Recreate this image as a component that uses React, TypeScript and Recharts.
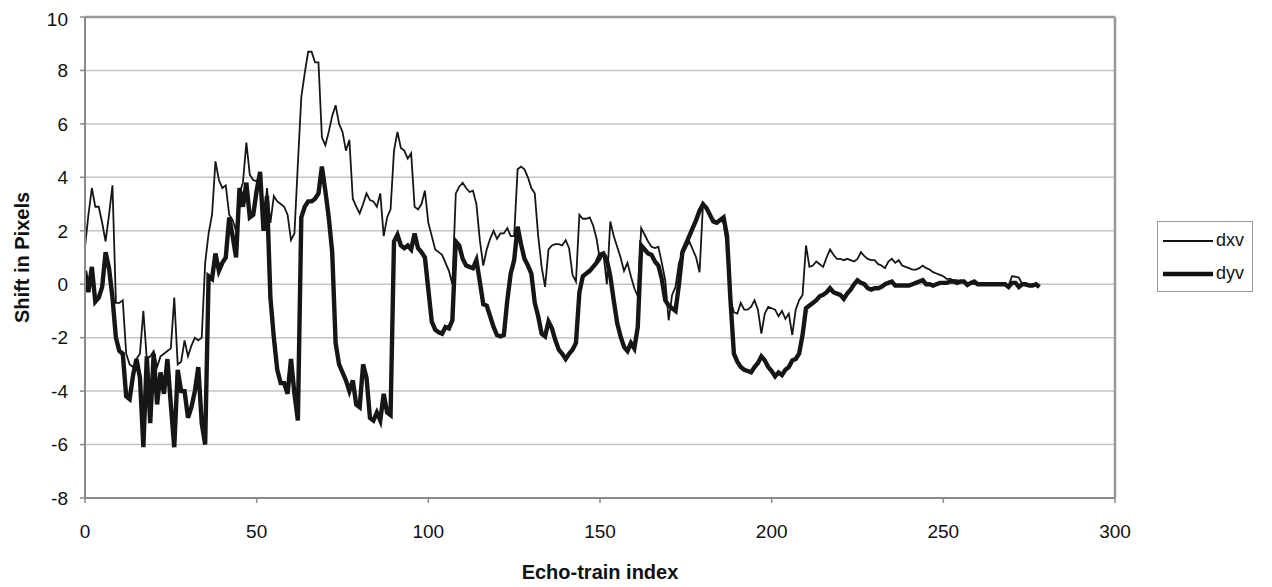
import React from 'react';
import {
  LineChart, Line, XAxis, YAxis, CartesianGrid, ReferenceLine, Legend, Label,
} from 'recharts';

// Echo-train index values 0..278
const dxv: number[] = [
  1.4, 2.6, 3.6, 2.9, 2.9, 2.3, 1.6, 2.6, 3.7, -0.7,
  -0.7, -0.6, -2.6, -3.0, -3.1, -2.8, -2.6, -1.0, -2.8, -2.7,
  -2.5, -3.1, -2.7, -2.6, -2.5, -2.4, -0.5, -3.0, -2.9, -2.1,
  -2.7, -2.3, -2.0, -2.1, -2.0, 0.8, 1.9, 2.6, 4.6, 3.9,
  3.6, 3.7, 2.6, 2.4, 2.0, 3.4, 3.8, 5.3, 4.1, 3.9,
  3.85, 4.1, 2.1, 3.6, 2.3, 3.3, 3.1, 3.0, 2.9, 2.6,
  1.65, 1.9, 4.5, 7.0, 7.9, 8.7, 8.7, 8.3, 8.3, 5.5,
  5.2, 5.7, 6.3, 6.7, 6.0, 5.7, 5.0, 5.4, 3.2, 2.9,
  2.65, 3.0, 3.4, 3.15, 3.1, 2.9, 3.4, 1.8, 2.5, 2.8,
  5.0, 5.7, 5.1, 5.0, 4.7, 4.9, 2.9, 2.8, 3.0, 3.5,
  2.3, 1.8, 1.3, 1.2, 1.1, 0.8, 0.5, 0.0, 3.4, 3.65,
  3.8, 3.6, 3.45, 3.5, 3.0, 1.65, 0.7, 1.3, 1.7, 2.0,
  1.7, 1.9, 1.9, 2.1, 1.8, 1.8, 4.3, 4.4, 4.3, 4.0,
  3.6, 3.4, 1.8, 0.65, -0.1, 1.3, 1.45, 1.5, 1.5, 1.45,
  1.65, 1.35, 0.35, 0.1, 2.6, 2.45, 2.45, 2.5, 2.2, 1.7,
  0.9, 1.15, 0.0, 2.35, 1.8, 1.4, 1.0, 0.5, 0.8, 0.3,
  -0.15, -0.45, 2.1, 1.85, 1.6, 1.4, 1.35, 1.4, 0.8, 0.15,
  -1.35, -0.4, -0.1, 0.8, 1.1, 1.35, 1.6, 1.3, 1.0, 0.45,
  3.0, 2.9, 2.6, 2.45, 2.3, 2.4, 2.3, 1.4, -0.6, -1.05,
  -1.1, -0.7, -0.95, -0.95, -0.85, -0.6, -0.95, -1.85, -1.1, -0.85,
  -0.9, -0.95, -1.2, -1.0, -1.3, -1.1, -1.9, -0.95, -0.6, -0.4,
  1.45, 0.65, 0.7, 0.85, 0.75, 0.65, 1.0, 1.3, 1.1, 0.95,
  0.95, 0.9, 0.95, 0.9, 0.85, 0.95, 1.2, 1.05, 0.95, 0.9,
  0.9, 0.75, 0.7, 0.6, 0.85, 0.95, 0.8, 0.9, 0.7, 0.65,
  0.6, 0.55, 0.55, 0.6, 0.7, 0.6, 0.55, 0.45, 0.4, 0.35,
  0.3, 0.2, 0.2, 0.15, 0.15, 0.1, 0.1, 0.05, 0.05, 0.0,
  0.0, 0.0, 0.0, 0.0, 0.0, 0.0, 0.0, 0.0, 0.0, -0.05,
  0.3, 0.28, 0.25, 0.0, -0.05, -0.05, 0.0, -0.05, -0.05,
];

const dyv: number[] = [
  0.5, -0.3, 0.65, -0.65, -0.5, -0.1, 1.2, 0.6, -0.5, -2.0,
  -2.5, -2.6, -4.2, -4.3, -3.4, -2.8, -3.5, -6.1, -2.7, -5.2,
  -2.6, -4.5, -3.3, -4.1, -2.8, -4.5, -6.1, -3.2, -4.0, -4.0,
  -5.0, -4.6, -4.0, -3.1, -5.2, -6.0, 0.3, 0.2, 1.15, 0.5,
  0.8, 1.0, 2.5, 1.8, 1.0, 3.6, 2.9, 3.8, 2.5, 2.6,
  3.5, 4.2, 2.0, 3.3, -0.5, -2.0, -3.2, -3.7, -3.7, -4.1,
  -2.8, -4.1, -5.1, 2.5, 2.9, 3.1, 3.1, 3.2, 3.4, 4.4,
  3.5, 2.5, 1.2, -2.2, -3.0, -3.3, -3.6, -4.0, -3.6, -4.5,
  -4.6, -3.0, -3.5, -5.0, -5.1, -4.8, -5.1, -4.1, -4.8, -4.9,
  1.6, 1.85, 1.45, 1.35, 1.45, 1.3, 1.9, 1.35, 1.2, 1.0,
  -0.2, -1.4, -1.7, -1.8, -1.85, -1.6, -1.65, -1.35, 1.6, 1.45,
  0.95, 0.7, 0.65, 0.6, 0.9, 0.1, -0.75, -0.8, -1.2, -1.6,
  -1.9, -1.95, -1.9, -0.6, 0.4, 0.9, 2.15, 1.5, 0.95, 0.7,
  0.4, -0.7, -1.2, -1.85, -1.95, -1.4, -1.65, -2.1, -2.45, -2.6,
  -2.8, -2.6, -2.45, -2.2, -0.3, 0.3, 0.4, 0.5, 0.65, 0.8,
  1.1, 1.15, 0.9, 0.3, -0.6, -1.45, -1.95, -2.35, -2.5, -2.2,
  -2.4, -1.6, 1.45, 1.3, 1.15, 1.1, 0.85, 0.7, 0.2, -0.6,
  -0.8, -0.9, -1.0, 0.0, 1.2, 1.5, 1.8, 2.1, 2.4, 2.75,
  3.0, 2.85, 2.6, 2.35, 2.3, 2.4, 2.5, 1.8, -0.6, -2.6,
  -2.9, -3.1, -3.2, -3.25, -3.3, -3.1, -2.95, -2.7, -2.85, -3.1,
  -3.25, -3.45, -3.3, -3.4, -3.2, -3.1, -2.85, -2.8, -2.6, -1.9,
  -0.9, -0.8, -0.7, -0.6, -0.45, -0.4, -0.3, -0.15, -0.3, -0.35,
  -0.4, -0.55, -0.35, -0.2, 0.0, 0.15, 0.05, 0.0, -0.15, -0.2,
  -0.15, -0.15, -0.1, 0.0, 0.05, 0.1, -0.05, -0.05, -0.05, -0.05,
  -0.05, 0.0, 0.05, 0.1, 0.15, 0.0, 0.0, -0.05, 0.0, 0.05,
  0.05, 0.05, 0.1, 0.1, 0.05, 0.1, 0.1, -0.03, 0.05, 0.1,
  0.0, 0.0, 0.0, 0.0, 0.0, 0.0, 0.0, 0.0, 0.0, -0.1,
  0.05, 0.05, -0.1, 0.0, 0.0, -0.05, -0.05, 0.0, -0.1,
];

const xTicks = [0, 50, 100, 150, 200, 250, 300];
const yTicks = [-8, -6, -4, -2, 0, 2, 4, 6, 8, 10];
const seriesNames = ['dxv', 'dyv'];

const data = dxv.map((v, i) => ({ i, dxv: v, dyv: dyv[i] }));

const FONT = '"Liberation Sans", Arial, sans-serif';
const AXIS_GRAY = '#8a8a8a';

const YTitle = (props: any) => {
  const vb = props.viewBox || {};
  const x = (vb.x || 0) + 14;
  const y = (vb.y || 0) + (vb.height || 0) / 2;
  return (
    <text x={x} y={y} transform={`rotate(-90, ${x}, ${y})`} textAnchor="middle"
      dominantBaseline="central" fontFamily={FONT} fontWeight="bold" fontSize={20} fill="#111">
      Shift in Pixels
    </text>
  );
};

const XTitle = (props: any) => {
  const vb = props.viewBox || {};
  const x = (vb.x || 0) + (vb.width || 0) / 2;
  const y = (vb.y || 0) + 74;
  return (
    <text x={x} y={y} textAnchor="middle" dominantBaseline="central"
      fontFamily={FONT} fontWeight="bold" fontSize={20} fill="#111">
      Echo-train index
    </text>
  );
};

const LegendBox = () => (
  <div style={{
    border: '1.5px solid #999', background: '#fff', padding: '2px 8px 1px 5px',
    fontFamily: FONT, fontSize: 18, color: '#111',
  }}>
    {seriesNames.map((n, k) => (
      <div key={n} style={{ display: 'flex', alignItems: 'center', height: 33 }}>
        <svg width={50} height={10} style={{ display: 'block' }}>
          <line x1={0} x2={50} y1={5} y2={5} stroke="#111" strokeWidth={k === 0 ? 2 : 4.5} />
        </svg>
        <span style={{ marginLeft: 3 }}>{n}</span>
      </div>
    ))}
  </div>
);

export default function App() {
  return (
    <div style={{ width: 1256, height: 571, overflow: 'visible' }}>
      <LineChart width={1256} height={579} data={data}
        margin={{ top: 9, right: 149, left: 0, bottom: 0 }}>
        <CartesianGrid vertical={false} stroke="#c4c4c4" strokeWidth={1.5} />
        <XAxis dataKey="i" type="number" domain={[0, 300]} ticks={xTicks}
          height={89} tickSize={5} tickMargin={22} allowDataOverflow
          axisLine={{ stroke: AXIS_GRAY, strokeWidth: 2 }}
          tickLine={{ stroke: AXIS_GRAY, strokeWidth: 1.5 }}
          tick={{ fontFamily: FONT, fontSize: 19, fill: '#111' }}>
          <Label content={XTitle} />
        </XAxis>
        <YAxis type="number" domain={[-8, 10]} ticks={yTicks} width={77}
          tickSize={5} tickMargin={12} allowDataOverflow
          axisLine={{ stroke: AXIS_GRAY, strokeWidth: 2 }}
          tickLine={{ stroke: AXIS_GRAY, strokeWidth: 1.5 }}
          tick={{ fontFamily: FONT, fontSize: 19, fill: '#111' }}>
          <Label content={YTitle} />
        </YAxis>
        <ReferenceLine y={10} stroke="#999" strokeWidth={2.5} />
        <ReferenceLine x={300} stroke="#999" strokeWidth={2.5} />
        <Line dataKey="dxv" type="linear" stroke="#161616" strokeWidth={1.8} dot={false}
          isAnimationActive={false} />
        <Line dataKey="dyv" type="linear" stroke="#161616" strokeWidth={4.4} dot={false}
          isAnimationActive={false} />
        <Legend layout="horizontal" align="center" verticalAlign="middle"
          wrapperStyle={{ left: 1149, top: 213, width: 'auto' }}
          content={LegendBox} />
      </LineChart>
    </div>
  );
}
